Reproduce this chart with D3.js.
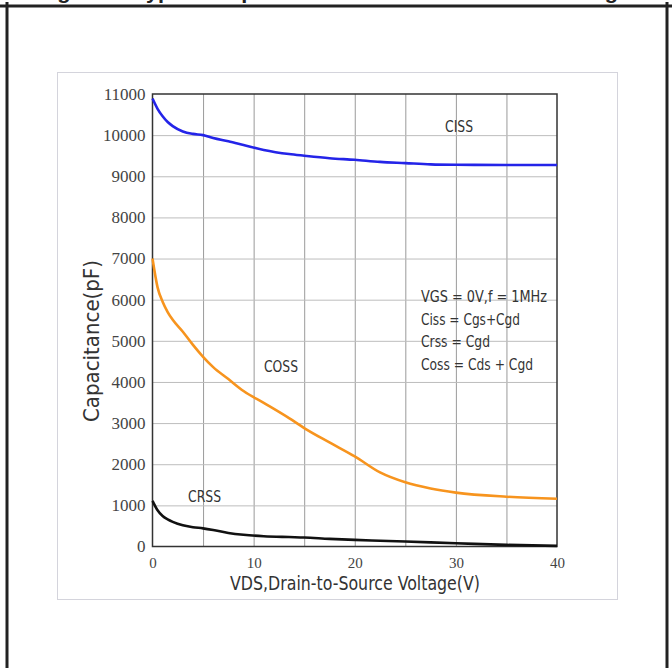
<!DOCTYPE html>
<html lang="en">
<head>
    <meta charset="UTF-8">
    <title>Typical Capacitance vs. Drain-to-Source Voltage</title>
    <script src="https://d3js.org/d3.v7.min.js"></script>
    <style>
        body { margin: 0; background: white; }
        svg { display: block; }
        .tick-label { font-family: "Liberation Serif", "DejaVu Serif", serif; fill: #444; }
        .narrow { font-family: "Liberation Sans Narrow", "DejaVu Sans Condensed", "Liberation Sans", sans-serif; fill: #333; }
    </style>
</head>
<body>
    <svg id="chart"></svg>

    <script>
        // drain-source voltage (V)
        const voltage = [0, 0.5, 1, 1.5, 2, 3, 4, 5, 6, 7.5, 9, 11, 13.5, 15, 17.5, 20, 22.5, 25, 27.5, 30, 35, 40];
        // capacitances (pF)
        const ciss = [10890, 10640, 10460, 10320, 10220, 10090, 10030, 10000, 9930, 9850, 9760, 9640, 9540, 9500, 9440, 9400, 9350, 9320, 9290, 9280, 9275, 9275];
        const coss = [7000, 6300, 5950, 5700, 5510, 5220, 4900, 4610, 4360, 4070, 3780, 3490, 3120, 2880, 2530, 2190, 1800, 1560, 1410, 1310, 1210, 1160];
        const crss = [1110, 880, 740, 660, 600, 515, 470, 440, 400, 330, 285, 250, 230, 220, 185, 160, 140, 120, 100, 80, 40, 15];

        const xTicks = [0, 10, 20, 30, 40];
        const xGrid = [5, 10, 15, 20, 25, 30, 35];
        const yTicks = [0, 1000, 2000, 3000, 4000, 5000, 6000, 7000, 8000, 9000, 10000, 11000];
        const notes = ["VGS  = 0V,f = 1MHz", "Ciss = Cgs+Cgd", "Crss = Cgd", "Coss = Cds + Cgd"];

        const width = 672, height = 668;
        const plot = { left: 152.5, right: 557, top: 94, bottom: 546.5 };

        const svg = d3.select("#chart").attr("width", width).attr("height", height);

        // cut-off figure caption above the frame
        svg.append("text")
            .attr("x", 38).attr("y", -1)
            .attr("textLength", 592).attr("lengthAdjust", "spacingAndGlyphs")
            .style("font", "bold 20px 'Liberation Sans', sans-serif")
            .attr("fill", "#222")
            .text("Figure 7. Typical Capacitance vs. Drain-to-Source Voltage");

        // outer frame
        svg.append("line").attr("x1", 0).attr("x2", width).attr("y1", 6).attr("y2", 6)
            .attr("stroke", "#222").attr("stroke-width", 3);
        svg.append("line").attr("x1", 7).attr("x2", 7).attr("y1", 2).attr("y2", height)
            .attr("stroke", "#222").attr("stroke-width", 3);
        svg.append("line").attr("x1", 667).attr("x2", 667).attr("y1", 2).attr("y2", height)
            .attr("stroke", "#222").attr("stroke-width", 3);

        // chart panel
        svg.append("rect")
            .attr("x", 57.5).attr("y", 72.5).attr("width", 560).attr("height", 527)
            .attr("fill", "white").attr("stroke", "#d4d4dc");

        const x = d3.scaleLinear().domain([0, 40]).range([plot.left, plot.right]);
        const y = d3.scaleLinear().domain([0, 11000]).range([plot.bottom, plot.top]);

        // grid
        svg.append("g")
            .attr("transform", `translate(0,${plot.bottom})`)
            .call(d3.axisBottom(x).tickValues(xGrid).tickSize(-(plot.bottom - plot.top)).tickFormat(""))
            .call(g => g.select(".domain").remove())
            .call(g => g.selectAll("line").attr("stroke", "#9a9a9a"));

        svg.append("g")
            .attr("transform", `translate(${plot.left},0)`)
            .call(d3.axisLeft(y).tickValues(yTicks.slice(1, -1)).tickSize(-(plot.right - plot.left)).tickFormat(""))
            .call(g => g.select(".domain").remove())
            .call(g => g.selectAll("line").attr("stroke", "#bdbdbd"));

        // plot frame
        svg.append("rect")
            .attr("x", plot.left).attr("y", plot.top)
            .attr("width", plot.right - plot.left).attr("height", plot.bottom - plot.top)
            .attr("fill", "none").attr("stroke", "#333").attr("stroke-width", 1.5);

        // axes labels
        svg.append("g")
            .attr("transform", `translate(${plot.left},0)`)
            .call(d3.axisLeft(y).tickValues(yTicks).tickFormat(d3.format("d")).tickSize(0).tickPadding(7))
            .call(g => g.select(".domain").remove())
            .call(g => g.selectAll("text").attr("class", "tick-label").style("font-size", "17px"))
            .attr("font-family", null);

        svg.append("g")
            .attr("transform", `translate(0,${plot.bottom})`)
            .call(d3.axisBottom(x).tickValues(xTicks).tickFormat(d3.format("d")).tickSize(0).tickPadding(11))
            .call(g => g.select(".domain").remove())
            .call(g => g.selectAll("text").attr("class", "tick-label").style("font-size", "15px"))
            .attr("font-family", null);

        // curves
        const line = d3.line().x(d => x(d[0])).y(d => y(d[1])).curve(d3.curveMonotoneX);
        const series = [
            { values: ciss, color: "#2424e8" },
            { values: coss, color: "#f7941e" },
            { values: crss, color: "#111111" }
        ];
        svg.selectAll(".curve")
            .data(series)
            .enter().append("path")
            .attr("class", "curve")
            .attr("d", s => line(voltage.map((v, i) => [v, s.values[i]])))
            .attr("fill", "none")
            .attr("stroke", s => s.color)
            .attr("stroke-width", 2.6)
            .attr("stroke-linejoin", "round");

        // curve names
        const names = [
            { text: "CISS", x: 445, y: 132, len: 28 },
            { text: "COSS", x: 264, y: 372, len: 34 },
            { text: "CRSS", x: 188, y: 502, len: 33 }
        ];
        svg.selectAll(".name")
            .data(names)
            .enter().append("text")
            .attr("class", "narrow")
            .attr("x", d => d.x).attr("y", d => d.y)
            .attr("textLength", d => d.len).attr("lengthAdjust", "spacingAndGlyphs")
            .style("font-size", "16px")
            .text(d => d.text);

        // test conditions
        const noteLens = [126, 99, 69, 112];
        svg.selectAll(".note")
            .data(notes)
            .enter().append("text")
            .attr("class", "narrow")
            .attr("x", 421)
            .attr("y", (d, i) => 302 + i * 22.7)
            .attr("textLength", (d, i) => noteLens[i]).attr("lengthAdjust", "spacingAndGlyphs")
            .style("font-size", "16px")
            .text(d => d);

        // axis titles
        svg.append("text")
            .attr("class", "narrow")
            .attr("transform", "translate(99,341) rotate(-90)")
            .attr("text-anchor", "middle")
            .attr("textLength", 162).attr("lengthAdjust", "spacingAndGlyphs")
            .style("font-size", "21px")
            .attr("fill", "#222")
            .text("Capacitance(pF)");

        svg.append("text")
            .attr("class", "narrow")
            .attr("x", 355).attr("y", 590)
            .attr("text-anchor", "middle")
            .attr("textLength", 250).attr("lengthAdjust", "spacingAndGlyphs")
            .style("font-size", "19px")
            .attr("fill", "#222")
            .text("VDS,Drain-to-Source Voltage(V)");
    </script>
</body>
</html>
